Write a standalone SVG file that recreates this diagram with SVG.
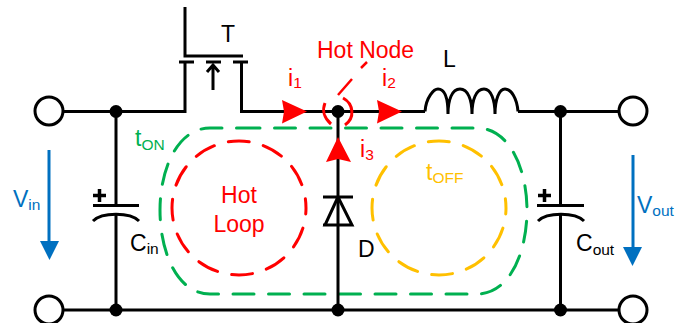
<svg xmlns="http://www.w3.org/2000/svg" width="682" height="323" viewBox="0 0 682 323">
<style>
text{font-family:"Liberation Sans",Arial,sans-serif;font-size:23px}
.sub{font-size:15.500px}
.k{fill:#000}.r{fill:#f00}.g{fill:#00b050}.y{fill:#ffc000}.b{fill:#0070c0}
.w{fill:none;stroke:#000;stroke-width:3}
.t{fill:#fff;stroke:#000;stroke-width:3}
.dash{fill:none;stroke-width:3;stroke-dasharray:21 14.500;stroke-linecap:round}
</style>
<rect width="682" height="323" fill="#fff"/>
<g id="loops">
<path class="dash" d="M239 128H477C510 128 527 170 527 210C527 252 510 294 477 294H210C177 294 160 252 160 210C160 170 177 128 210 128H239" stroke="#00b050"/>
<circle class="dash" cx="239" cy="208" r="67" stroke="#f00" stroke-dashoffset="15"/>
<circle class="dash" cx="439" cy="208" r="67" stroke="#ffc000" stroke-dashoffset="15"/>
</g>
<g id="connectors">
<path class="w" d="M62 111.500H185V62M241.500 62V111.500H425M518 111.500H619M62 310H619M116 111.500V205M116 214V310M560.500 111.500V205M560.500 214V310M338 111.500V310"/>
<path d="M49 150V243" fill="none" stroke="#0070c0" stroke-width="3"/>
<path d="M40 241H59L49.500 260Z" fill="#0070c0"/>
<path d="M633 155V249" fill="none" stroke="#0070c0" stroke-width="3"/>
<path d="M623 247H642L632.500 266Z" fill="#0070c0"/>
</g>
<g id="vin-terminal"><circle class="t" cx="49" cy="111" r="14"/></g>
<g id="vin-return"><circle class="t" cx="49" cy="310" r="14"/></g>
<g id="vout-terminal"><circle class="t" cx="633" cy="111" r="14"/></g>
<g id="vout-return"><circle class="t" cx="633" cy="310" r="14"/></g>
<g id="junctions">
<circle cx="116" cy="111.500" r="6.500"/><circle cx="116" cy="310" r="6.500"/>
<circle cx="560.500" cy="111.500" r="6.500"/><circle cx="560.500" cy="310" r="6.500"/>
<circle cx="338" cy="111.500" r="6.500"/><circle cx="338" cy="310" r="6.500"/>
</g>
<g id="transistor">
<path class="w" d="M185 7V56H243M179 62H194M233 62H248M206 62H221"/>
<path class="w" d="M213 90V66M207 72L213 65L219 72"/>
<text class="k" x="221" y="42">T</text>
</g>
<g id="inductor">
<path class="w" d="M425 111.500C426 97 434 89 438 89C446 89 448 100 448 114C448 100 452 89 460 89C468 89 472 100 472 114C472 100 476 89 484 89C491 89 495 100 495 114C495 100 499 89 505 89C511 89 517 98 518 111.500"/>
<text class="k" x="443" y="67">L</text>
</g>
<g id="cin">
<path class="w" d="M93 205.500H139M93 221C102 212 130 212 139 221"/>
<path d="M93 195.500H106M99.500 189V202" fill="none" stroke="#000" stroke-width="3.500"/>
<text class="k" x="130" y="251">C<tspan class="sub" dy="3">in</tspan></text>
</g>
<g id="cout">
<path class="w" d="M537 205.500H584M538 221C547 212 575 212 584 221"/>
<path d="M538 195.500H551M544.500 189V202" fill="none" stroke="#000" stroke-width="3.500"/>
<text class="k" x="576" y="251">C<tspan class="sub" dy="4">out</tspan></text>
</g>
<g id="diode">
<path class="w" d="M323 197H353M338 197L325 225H352ZM323 225H353"/>
<text class="k" x="358" y="257">D</text>
</g>
<g id="hot-node">
<path d="M282 100L307 111.500L282 123.500L284 111.500Z" fill="#f00"/>
<path d="M377 100L402 111.500L377 123.500L379 111.500Z" fill="#f00"/>
<path d="M338 137L351 162L338 159L326 162Z" fill="#f00"/>
<path d="M325 103C322 110 324 118 331 124M343 98C354 104 355 118 345 125" fill="none" stroke="#f00" stroke-width="3"/>
<path d="M338 95L352 79M361 68L367 62" fill="none" stroke="#f00" stroke-width="2.500"/>
<text class="r" x="317" y="58">Hot Node</text>
<text class="r" x="288" y="86">i<tspan class="sub" dy="2">1</tspan></text>
<text class="r" x="382" y="86">i<tspan class="sub" dy="2">2</tspan></text>
<text class="r" x="360" y="157">i<tspan class="sub" dy="3">3</tspan></text>
</g>
<g id="labels">
<text class="r" x="239" y="203" text-anchor="middle">Hot</text>
<text class="r" x="239" y="232" text-anchor="middle">Loop</text>
<text class="g" x="135" y="146">t<tspan class="sub" dy="4">ON</tspan></text>
<text class="y" x="426" y="180">t<tspan class="sub" dy="3">OFF</tspan></text>
<text class="b" x="13" y="207">V<tspan class="sub" dy="3">in</tspan></text>
<text class="b" x="637" y="213">V<tspan class="sub" dy="3">out</tspan></text>
</g>
</svg>
